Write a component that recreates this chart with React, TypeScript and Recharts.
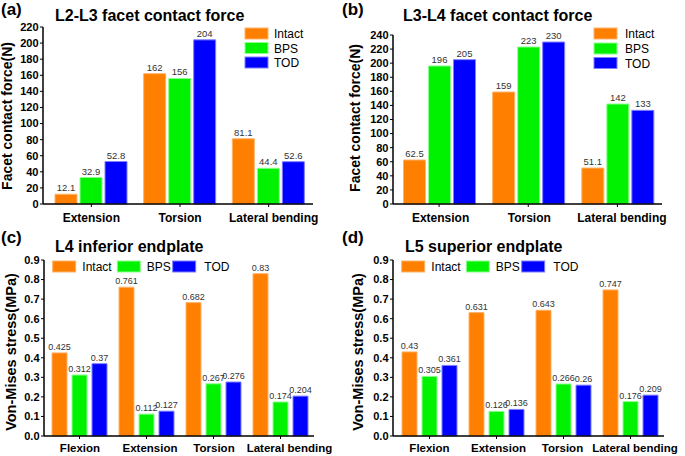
import React from 'react';
import { BarChart, Bar, XAxis, YAxis, LabelList } from 'recharts';

const FONT = '"Liberation Sans", Arial, Helvetica, sans-serif';

// categories
const facetCategories = ['Extension', 'Torsion', 'Lateral bending'];
const endplateCategories = ['Flexion', 'Extension', 'Torsion', 'Lateral bending'];

// (a) L2-L3 facet contact force (N)
const l2l3Intact = [12.1, 162, 81.1];
const l2l3Bps = [32.9, 156, 44.4];
const l2l3Tod = [52.8, 204, 52.6];

// (b) L3-L4 facet contact force (N)
const l3l4Intact = [62.5, 159, 51.1];
const l3l4Bps = [196, 223, 142];
const l3l4Tod = [205, 230, 133];

// (c) L4 inferior endplate (MPa)
const l4Intact = [0.425, 0.761, 0.682, 0.83];
const l4Bps = [0.312, 0.112, 0.267, 0.174];
const l4Tod = [0.37, 0.127, 0.276, 0.204];

// (d) L5 superior endplate (MPa)
const l5Intact = [0.43, 0.631, 0.643, 0.747];
const l5Bps = [0.305, 0.126, 0.266, 0.176];
const l5Tod = [0.361, 0.136, 0.26, 0.209];

// tick labels
const forceTicksA = [0, 20, 40, 60, 80, 100, 120, 140, 160, 180, 200, 220];
const forceTicksB = [0, 20, 40, 60, 80, 100, 120, 140, 160, 180, 200, 220, 240];
const stressTicks = [0, 0.1, 0.2, 0.3, 0.4, 0.5, 0.6, 0.7, 0.8, 0.9];

const seriesNames = ['Intact', 'BPS', 'TOD'];
const seriesFills = ['#FF7F00', '#00F200', '#0000FF'];
const seriesEdges = ['#FFB26A', '#8CFF8C', '#7F7FFF'];

function buildRows(cats: string[], intact: number[], bps: number[], tod: number[]) {
  return cats.map((c, i) => ({ name: c, Intact: intact[i], BPS: bps[i], TOD: tod[i] }));
}

type PanelProps = {
  left: number;
  top: number;
  width: number;
  height: number;
  margin: { top: number; right: number; left: number; bottom: number };
  yWidth: number;
  xHeight: number;
  padLeft: number;
  barSize: number;
  barGap: number;
  rows: any[];
  ticks: number[];
  fmt: (v: number) => string;
  xTickMargin: number;
  xTickSize: number;
  xTickShift: number[];
  valueSize: number;
  tag: string;
  tagX: number;
  title: string;
  titleX: number;
  titleY: number;
  yLabel: string;
  yLabelX: number;
  yLabelY: number;
  yLabelSize: number;
  legend: { x: number; y: number; textX: number }[];
};

function Panel(p: PanelProps) {
  const domainMax = p.ticks[p.ticks.length - 1];
  const renderTick = (t: any) => (
    <text
      x={t.x + (p.xTickShift[t.index] || 0)}
      y={t.y}
      dy="0.71em"
      textAnchor="middle"
      fill="#000"
      fontSize={p.xTickSize}
      fontWeight="bold"
      fontFamily={FONT}
    >
      {t.payload.value}
    </text>
  );
  return (
    <div style={{ position: 'absolute', left: p.left, top: p.top, width: p.width, height: p.height }}>
      <BarChart
        width={p.width}
        height={p.height}
        data={p.rows}
        margin={p.margin}
        barSize={p.barSize}
        barGap={p.barGap}
      >
        <XAxis
          dataKey="name"
          height={p.xHeight}
          padding={{ left: p.padLeft, right: 0 }}
          axisLine={{ stroke: '#000', strokeWidth: 1.5 }}
          tickLine={{ stroke: '#000' }}
          tickSize={3}
          tickMargin={p.xTickMargin}
          interval={0}
          tick={renderTick}
        />
        <YAxis
          width={p.yWidth}
          domain={[0, domainMax]}
          ticks={p.ticks}
          interval={0}
          tickFormatter={p.fmt}
          axisLine={{ stroke: '#000', strokeWidth: 1.5 }}
          tickLine={{ stroke: '#000' }}
          tickSize={3}
          tickMargin={1.5}
          tick={{ fill: '#000', fontSize: 11, fontWeight: 'bold', fontFamily: FONT }}
        />
        {seriesNames.map((s, i) => (
          <Bar
            key={s}
            dataKey={s}
            fill={seriesFills[i]}
            stroke={seriesEdges[i]}
            strokeWidth={1}
            isAnimationActive={false}
          >
            <LabelList
              dataKey={s}
              position="top"
              offset={3}
              fill="#333"
              fontSize={p.valueSize}
              fontFamily={FONT}
            />
          </Bar>
        ))}
      </BarChart>
      <svg
        width={p.width}
        height={p.height}
        style={{ position: 'absolute', left: 0, top: 0, pointerEvents: 'none', fontFamily: FONT }}
      >
        <text x={p.tagX} y={14.5} fontSize={17} fontWeight="bold" fill="#000">
          {p.tag}
        </text>
        <text x={p.titleX} y={p.titleY} fontSize={16} fontWeight="bold" fill="#000">
          {p.title}
        </text>
        <text
          x={p.yLabelX}
          y={p.yLabelY}
          fontSize={p.yLabelSize}
          fontWeight="bold"
          fill="#000"
          textAnchor="middle"
          transform={`rotate(-90 ${p.yLabelX} ${p.yLabelY})`}
        >
          {p.yLabel}
        </text>
        {p.legend.map((l, i) => (
          <g key={seriesNames[i]}>
            <rect x={l.x} y={l.y} width={23} height={11} fill={seriesFills[i]} stroke={seriesEdges[i]} strokeWidth={1} />
            <text x={l.textX} y={l.y + 10} fontSize={12} fill="#000">
              {seriesNames[i]}
            </text>
          </g>
        ))}
      </svg>
    </div>
  );
}

const force = (v: number) => String(v);
const stress = (v: number) => v.toFixed(1);

export default function App() {
  return (
    <div style={{ position: 'absolute', left: 0, top: 0, width: 685, height: 456, background: '#fff' }}>
      <Panel
        left={0}
        top={0}
        width={340}
        height={228}
        margin={{ top: 27, right: 27, left: 0, bottom: 0 }}
        yWidth={43}
        xHeight={24}
        padLeft={4}
        barSize={22}
        barGap={3}
        rows={buildRows(facetCategories, l2l3Intact, l2l3Bps, l2l3Tod)}
        ticks={forceTicksA}
        fmt={force}
        xTickMargin={6}
        xTickSize={12}
        xTickShift={[0, 0, 5]}
        valueSize={9.5}
        tag="(a)"
        tagX={1}
        title="L2-L3 facet contact force"
        titleX={55}
        titleY={21}
        yLabel="Facet contact force(N)"
        yLabelX={12}
        yLabelY={116}
        yLabelSize={14}
        legend={[
          { x: 245, y: 28, textX: 274 },
          { x: 245, y: 42.5, textX: 274 },
          { x: 245, y: 57, textX: 274 },
        ]}
      />
      <Panel
        left={340}
        top={0}
        width={345}
        height={228}
        margin={{ top: 35, right: 23, left: 0, bottom: 0 }}
        yWidth={53}
        xHeight={24}
        padLeft={1.5}
        barSize={22}
        barGap={3}
        rows={buildRows(facetCategories, l3l4Intact, l3l4Bps, l3l4Tod)}
        ticks={forceTicksB}
        fmt={force}
        xTickMargin={6}
        xTickSize={12}
        xTickShift={[1.5, 1, 4.5]}
        valueSize={9.5}
        tag="(b)"
        tagX={2}
        title="L3-L4 facet contact force"
        titleX={63}
        titleY={21}
        yLabel="Facet contact force(N)"
        yLabelX={20}
        yLabelY={118}
        yLabelSize={14}
        legend={[
          { x: 254, y: 28, textX: 285 },
          { x: 254, y: 43, textX: 285 },
          { x: 254, y: 57.5, textX: 285 },
        ]}
      />
      <Panel
        left={0}
        top={228}
        width={340}
        height={228}
        margin={{ top: 32, right: 26, left: 0, bottom: 0 }}
        yWidth={44}
        xHeight={20}
        padLeft={2}
        barSize={15}
        barGap={5}
        rows={buildRows(endplateCategories, l4Intact, l4Bps, l4Tod)}
        ticks={stressTicks}
        fmt={stress}
        xTickMargin={4.5}
        xTickSize={11.5}
        xTickShift={[0.5, 3.5, 0.5, 9]}
        valueSize={9}
        tag="(c)"
        tagX={1}
        title="L4 inferior endplate"
        titleX={55}
        titleY={24}
        yLabel="Von-Mises stress(MPa)"
        yLabelX={15.5}
        yLabelY={124}
        yLabelSize={14.5}
        legend={[
          { x: 52.7, y: 33, textX: 82.3 },
          { x: 117.3, y: 33, textX: 146.7 },
          { x: 172.7, y: 33, textX: 204.3 },
        ]}
      />
      <Panel
        left={340}
        top={228}
        width={345}
        height={228}
        margin={{ top: 32, right: 21, left: 0, bottom: 0 }}
        yWidth={53}
        xHeight={20}
        padLeft={3}
        barSize={15}
        barGap={5}
        rows={buildRows(endplateCategories, l5Intact, l5Bps, l5Tod)}
        ticks={stressTicks}
        fmt={stress}
        xTickMargin={4.5}
        xTickSize={11.5}
        xTickShift={[0, 2, -1, 4.5]}
        valueSize={9}
        tag="(d)"
        tagX={2}
        title="L5 superior endplate"
        titleX={65}
        titleY={24}
        yLabel="Von-Mises stress(MPa)"
        yLabelX={22.5}
        yLabelY={124}
        yLabelSize={14.5}
        legend={[
          { x: 61.7, y: 33, textX: 91.3 },
          { x: 126.3, y: 33, textX: 155.7 },
          { x: 181.7, y: 33, textX: 213.3 },
        ]}
      />
    </div>
  );
}
